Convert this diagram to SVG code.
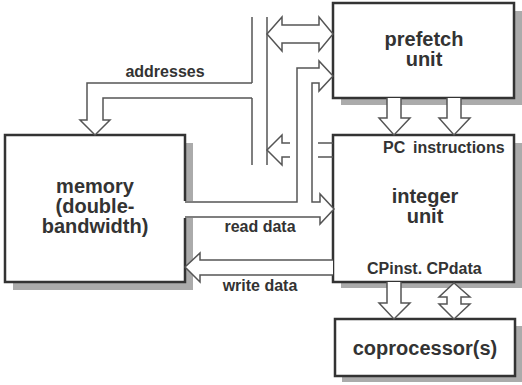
<svg xmlns="http://www.w3.org/2000/svg" width="522" height="385" viewBox="0 0 522 385">
  <style>
    .box { fill: #ffffff; stroke: #333333; stroke-width: 2.5; }
    .edge { fill: none; stroke: #333333; stroke-width: 2.5; }
    .shadow { fill: #ababab; }
    .wire { fill: #ffffff; stroke: #555555; stroke-width: 1.5; stroke-linejoin: miter; }
    .line { fill: none; stroke: #555555; stroke-width: 1.5; }
    .title { font-family: "Liberation Sans", Arial, sans-serif; font-weight: bold; font-size: 20px; fill: #333333; text-anchor: middle; }
    .label { font-family: "Liberation Sans", Arial, sans-serif; font-weight: bold; font-size: 16px; fill: #333333; }
  </style>
  <rect width="522" height="385" fill="#ffffff"/>

  <!-- drop shadows -->
  <g id="shadows">
    <rect class="shadow" x="186" y="143" width="7" height="58"/>
    <rect class="shadow" x="186" y="218" width="7" height="72"/>
    <rect class="shadow" x="13" y="283" width="180" height="7"/>
    <rect class="shadow" x="515" y="11" width="7" height="94"/>
    <rect class="shadow" x="341" y="99" width="181" height="6"/>
    <rect class="shadow" x="515" y="143" width="7" height="145"/>
    <rect class="shadow" x="341" y="283" width="181" height="5"/>
    <rect class="shadow" x="516" y="326" width="6" height="56"/>
    <rect class="shadow" x="342" y="377" width="180" height="5"/>
  </g>

  <g id="memory">
    <rect x="5" y="135" width="180" height="147" fill="#ffffff"/>
    <path class="edge" d="M185,201 V135 H5 V282 H185 V218"/>
    <text class="title" x="95" y="193">memory</text>
    <text class="title" x="95" y="213">(double-</text>
    <text class="title" x="95" y="233">bandwidth)</text>
  </g>

  <g id="prefetch">
    <rect class="box" x="333" y="3" width="181" height="95"/>
    <text class="title" x="424" y="46">prefetch</text>
    <text class="title" x="424" y="66">unit</text>
  </g>

  <g id="integer">
    <rect class="box" x="333" y="135" width="181" height="147"/>
    <text class="title" x="425" y="203">integer</text>
    <text class="title" x="425" y="223">unit</text>
    <text class="label" x="383" y="153">PC</text>
    <text class="label" x="413" y="153">instructions</text>
    <text class="label" x="367" y="274">CPinst. CPdata</text>
  </g>

  <g id="coprocessor">
    <rect class="box" x="335" y="319" width="180" height="57"/>
    <text class="title" x="425" y="355">coprocessor(s)</text>
  </g>

  <g id="connectors">
    <!-- address bus rails -->
    <path class="line" d="M252,17 V83 M252,98 V165 M267,17 V165"/>
    <!-- addresses to memory -->
    <path class="wire" d="M252,83 H87 V120 H80 L95,135 L110,120 H103 V98 H252"/>
    <!-- bus to prefetch, both ways -->
    <path class="wire" d="M267,34 L282,17 V25 H319 V17 L333,34 L319,51 V43 H282 V51 Z"/>
    <!-- read data: memory to integer unit, branching up to prefetch -->
    <path class="wire" d="M185,202 H297 V68 H319 V61 L333,76 L319,91 V83 H312 V202 H320 V194 L334,209 L320,224 V217 H185"/>
    <!-- integer unit address out to bus -->
    <path class="wire" d="M290,143 H282 V135 L267,150 L282,165 V157 H290"/>
    <path class="line" d="M318,143 H333 M318,157 H333"/>
    <!-- write data: integer unit to memory -->
    <path class="wire" d="M333,260 H200 V253 L185,267 L200,282 V275 H333"/>
    <!-- prefetch to integer unit -->
    <path class="wire" d="M387,98 V118 H379 L394,135 L410,118 H401 V98"/>
    <path class="wire" d="M447,98 V118 H439 L454,135 L470,118 H461 V98"/>
    <!-- integer unit to coprocessor -->
    <path class="wire" d="M387,282 V303 H379 L394,319 L410,303 H401 V282"/>
    <path class="wire" d="M454,283 L470,297 H461 V304 H470 L454,319 L439,304 H447 V297 H439 Z"/>
    <text class="label" x="165" y="77" text-anchor="middle">addresses</text>
    <text class="label" x="260" y="232" text-anchor="middle">read data</text>
    <text class="label" x="260" y="291" text-anchor="middle">write data</text>
  </g>
</svg>
